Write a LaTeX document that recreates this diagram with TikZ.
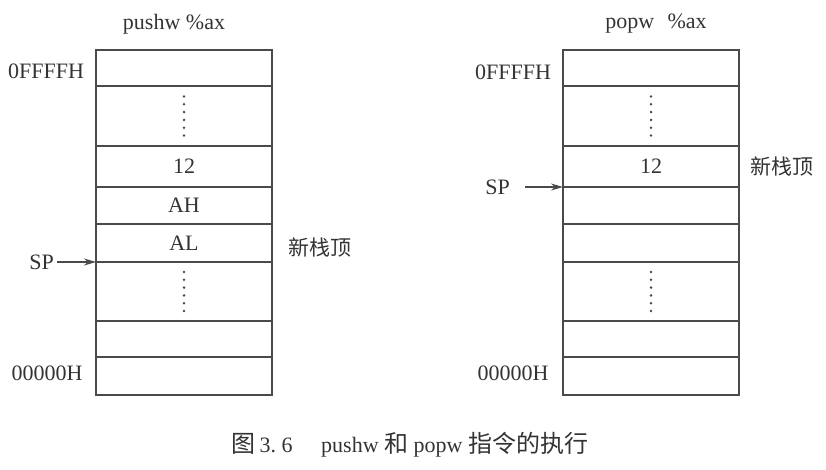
\documentclass[tikz,border=0pt]{standalone}
\usepackage{fontspec}
\setmainfont{Liberation Serif}
\newfontfamily\cjk{Noto Sans CJK SC}
\usetikzlibrary{arrows.meta}
\definecolor{ink}{HTML}{333333}
\definecolor{edge}{HTML}{4A4A4A}
\begin{document}
\begin{tikzpicture}[x=1pt,y=-1pt,
  cell/.style={draw=edge, line width=1.2pt, minimum width=176pt, inner sep=0pt, outer sep=0pt},
  txt/.style={text=ink, font=\fontsize{22}{24}\selectfont, inner sep=0pt},
  cjklab/.style={text=ink, font=\fontsize{21}{23}\selectfont\cjk, inner sep=0pt},
  sparrow/.style={draw=edge, line width=1.1pt, -{Stealth[length=12pt,width=7pt]}}
]
\useasboundingbox (0,0) rectangle (826,470);
% ---------- left stack ----------
\node[txt] (tL) at (174,24) {pushw \%ax};
\node[cell, minimum height=36pt] (L1) at (184,68) {};
\node[cell, minimum height=60pt] (L2) at (184,116) {};
\node[cell, minimum height=41pt] (L3) at (184,166.5) {};
\node[cell, minimum height=37pt] (L4) at (184,205.5) {};
\node[cell, minimum height=38pt] (L5) at (184,243) {};
\node[cell, minimum height=59pt] (L6) at (184,291.5) {};
\node[cell, minimum height=36pt] (L7) at (184,339) {};
\node[cell, minimum height=38pt] (L8) at (184,376) {};
\node[txt] (vL3) at (L3) {12};
\node[txt] (vL4) at (L4) {AH};
\node[txt] (vL5) at (L5) {AL};
\foreach \c in {L2,L6}{
  \foreach \i in {0,...,5}{
    \fill[edge] ([yshift={(-19.5+7.8*\i)*-1pt}]\c.center) circle (1.4pt);
  }
}
\node[txt] (hiL) at (46,71) {0FFFFH};
\node[txt] (loL) at (47,373) {00000H};
\node[txt, anchor=east] (spL) at (54,262) {SP};
\draw[sparrow] ([xshift=3pt]spL.east) -- (L5.south west);
\node[cjklab] (ntL) at (320,247) {新栈顶};
% ---------- right stack ----------
\node[txt] (tR) at (656,24) {popw\hspace{0.6em}\%ax};
\node[cell, minimum height=36pt] (R1) at (651,68) {};
\node[cell, minimum height=60pt] (R2) at (651,116) {};
\node[cell, minimum height=41pt] (R3) at (651,166.5) {};
\node[cell, minimum height=37pt] (R4) at (651,205.5) {};
\node[cell, minimum height=38pt] (R5) at (651,243) {};
\node[cell, minimum height=59pt] (R6) at (651,291.5) {};
\node[cell, minimum height=36pt] (R7) at (651,339) {};
\node[cell, minimum height=38pt] (R8) at (651,376) {};
\node[txt] (vR3) at (R3) {12};
\foreach \c in {R2,R6}{
  \foreach \i in {0,...,5}{
    \fill[edge] ([yshift={(-19.5+7.8*\i)*-1pt}]\c.center) circle (1.4pt);
  }
}
\node[txt] (hiR) at (513,72) {0FFFFH};
\node[txt] (loR) at (513,373) {00000H};
\node[txt, anchor=east] (spR) at (510,187) {SP};
\draw[sparrow] ([xshift=15pt]spR.east) -- (R3.south west);
\node[cjklab] (ntR) at (782,167) {新栈顶};
% ---------- caption ----------
\node[txt, font=\fontsize{22}{24}\selectfont] (cap) at (410,445)
  {{\fontsize{24}{26}\selectfont\cjk 图}\,3.\ 6\hspace{1.3em}pushw {\fontsize{24}{26}\selectfont\cjk 和} popw {\fontsize{24}{26}\selectfont\cjk 指令的执行}};
\end{tikzpicture}
\end{document}
